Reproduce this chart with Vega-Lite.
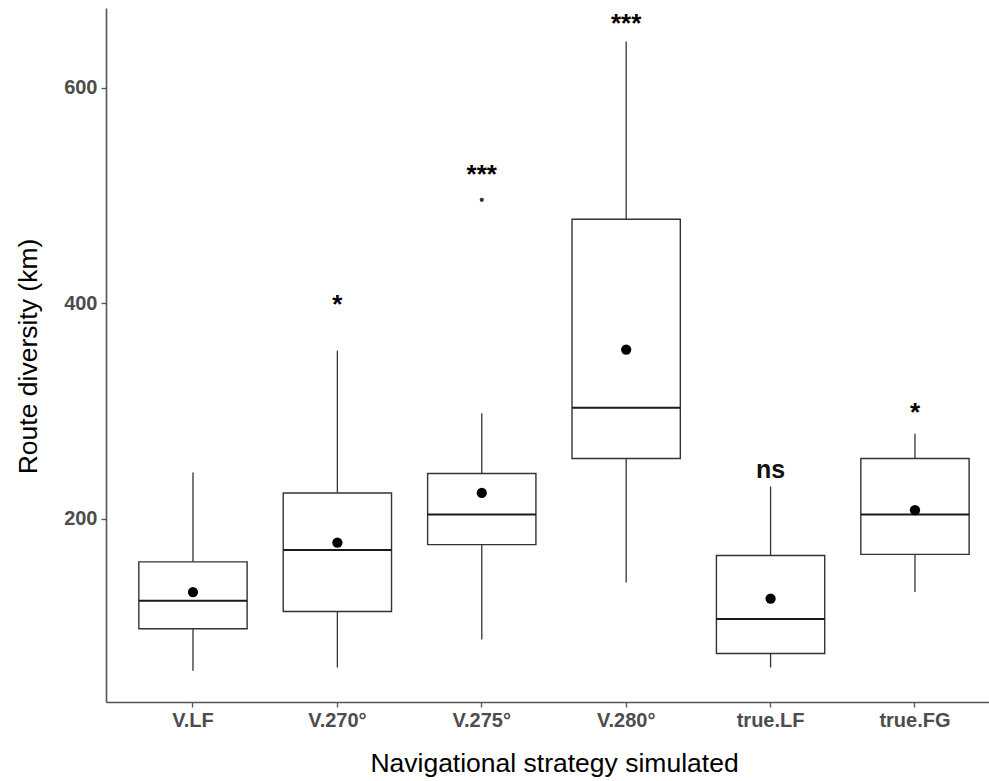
{
  "$schema": "https://vega.github.io/schema/vega-lite/v6.json",
  "width": 883,
  "height": 694,
  "autosize": {"type": "none"},
  "padding": {"left": 106, "top": 8, "right": 0, "bottom": 79},
  "background": "white",
  "config": {"view": {"stroke": null}, "font": "Liberation Sans"},
  "data": {
    "values": [
      {"strategy": "V.LF", "lower": 59, "q1": 98, "median": 124, "q3": 160, "upper": 243, "mean": 132, "outlier": null, "label": null, "label_y": null},
      {"strategy": "V.270°", "lower": 62, "q1": 114, "median": 171, "q3": 224, "upper": 356, "mean": 178, "outlier": null, "label": "*", "label_y": 403},
      {"strategy": "V.275°", "lower": 88, "q1": 176, "median": 204, "q3": 242, "upper": 298, "mean": 224, "outlier": 496, "label": "***", "label_y": 524},
      {"strategy": "V.280°", "lower": 141, "q1": 256, "median": 303, "q3": 478, "upper": 643, "mean": 357, "outlier": null, "label": "***", "label_y": 664},
      {"strategy": "true.LF", "lower": 62, "q1": 75, "median": 107, "q3": 166, "upper": 230, "mean": 126, "outlier": null, "label": "ns", "label_y": 245},
      {"strategy": "true.FG", "lower": 132, "q1": 167, "median": 204, "q3": 256, "upper": 279, "mean": 208, "outlier": null, "label": "*", "label_y": 303}
    ]
  },
  "encoding": {
    "x": {
      "field": "strategy", "type": "nominal", "sort": null,
      "scale": {"paddingInner": 0, "paddingOuter": 0.0575, "align": 0.89},
      "axis": {
        "title": "Navigational strategy simulated",
        "labelAngle": 0,
        "labelFont": "Liberation Sans", "labelFontWeight": "bold", "labelFontSize": 20, "labelColor": "#4d4d4d",
        "labelPadding": 3,
        "tickSize": 5, "tickColor": "#555555", "tickWidth": 1.3,
        "domainColor": "#555555", "domainWidth": 1.6,
        "titleFont": "Liberation Sans", "titleFontSize": 26.5, "titleFontWeight": "normal", "titleColor": "black",
        "titleX": 448, "titleAlign": "center", "titleY": 61, "titleBaseline": "middle"
      }
    }
  },
  "layer": [
    {
      "mark": {"type": "rule", "color": "#333333", "strokeWidth": 1.3},
      "encoding": {
        "y": {"field": "lower", "type": "quantitative", "scale": {"domain": [30, 674], "nice": false, "zero": false},
          "axis": {
            "title": "Route diversity (km)", "values": [200, 400, 600], "grid": false,
            "labelFont": "Liberation Sans", "labelFontWeight": "bold", "labelFontSize": 20, "labelColor": "#4d4d4d",
            "labelPadding": 4, "tickSize": 5, "tickColor": "#555555", "tickWidth": 1.3,
            "domainColor": "#555555", "domainWidth": 1.6,
            "titleFont": "Liberation Sans", "titleFontSize": 26.5, "titleFontWeight": "normal", "titleColor": "black",
            "titleX": -78, "titleY": 348, "titleAngle": -90, "titleAlign": "center", "titleBaseline": "middle"
          }},
        "y2": {"field": "q1"}
      }
    },
    {
      "mark": {"type": "rule", "color": "#333333", "strokeWidth": 1.3},
      "encoding": {
        "y": {"field": "q3", "type": "quantitative"},
        "y2": {"field": "upper"}
      }
    },
    {
      "mark": {"type": "bar", "fill": "white", "stroke": "#333333", "strokeWidth": 1.4, "width": {"band": 0.75}},
      "encoding": {
        "y": {"field": "q1", "type": "quantitative"},
        "y2": {"field": "q3"}
      }
    },
    {
      "mark": {"type": "bar", "fill": "transparent", "stroke": "#1a1a1a", "strokeWidth": 2, "width": {"band": 0.75}},
      "encoding": {
        "y": {"field": "median", "type": "quantitative"},
        "y2": {"field": "median"}
      }
    },
    {
      "mark": {"type": "point", "filled": true, "color": "black", "opacity": 1, "size": 105},
      "encoding": {"y": {"field": "mean", "type": "quantitative"}}
    },
    {
      "transform": [{"filter": "datum.outlier != null"}],
      "mark": {"type": "point", "filled": true, "color": "#333333", "opacity": 1, "size": 18},
      "encoding": {"y": {"field": "outlier", "type": "quantitative"}}
    },
    {
      "transform": [{"filter": "datum.label == 'ns'"}],
      "mark": {"type": "text", "font": "Liberation Sans", "fontSize": 25, "fontWeight": "bold", "color": "#111111", "baseline": "middle"},
      "encoding": {"y": {"field": "label_y", "type": "quantitative"}, "text": {"field": "label"}}
    },
    {
      "transform": [{"filter": "datum.label != null && datum.label != 'ns'"}],
      "mark": {"type": "text", "font": "Liberation Sans", "fontSize": 26, "fontWeight": "bold", "color": "black", "baseline": "middle", "dy": 5},
      "encoding": {"y": {"field": "label_y", "type": "quantitative"}, "text": {"field": "label"}}
    }
  ]
}
